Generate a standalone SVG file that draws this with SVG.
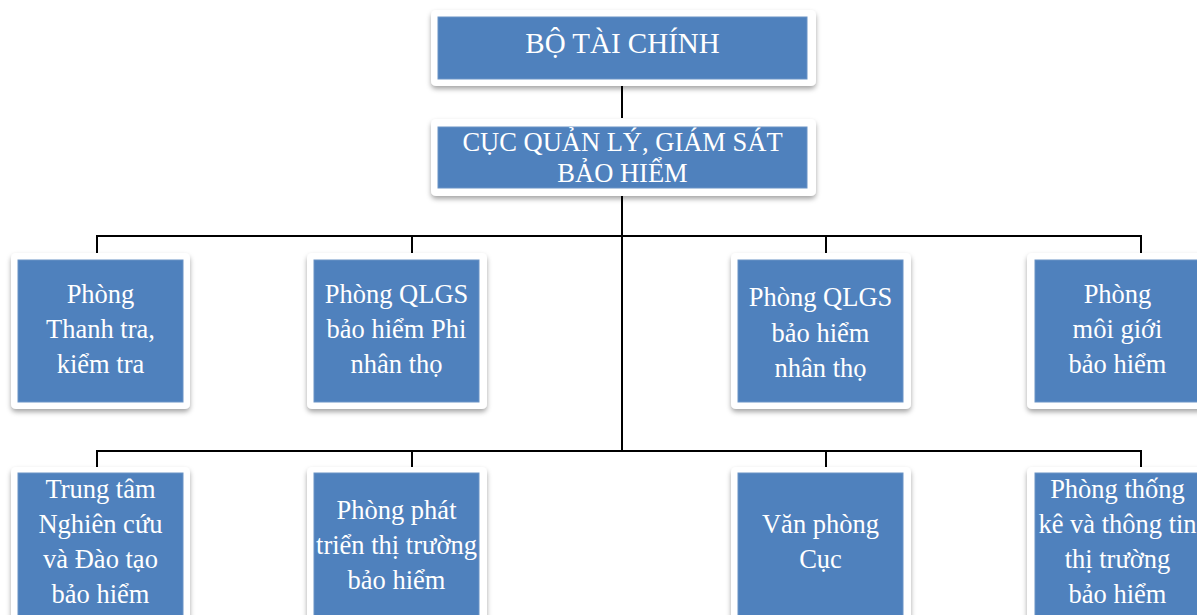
<svg xmlns="http://www.w3.org/2000/svg" width="1197" height="615" viewBox="0 0 1197 615">
<defs>
<filter id="sh" x="-10%" y="-10%" width="120%" height="130%">
<feDropShadow dx="0" dy="3" stdDeviation="2.5" flood-color="#000" flood-opacity="0.35"/>
</filter>
</defs>
<style>
.frame{fill:#fff;filter:url(#sh)}
.box{fill:#4F81BD;stroke:#6a93c6;stroke-width:1}
.t{font-family:"Liberation Serif","Times New Roman",serif;font-size:26.5px;fill:#fff;text-anchor:middle}
.big{font-size:29px}
.ln{stroke:#000;stroke-width:2;fill:none}
</style>
<rect width="1197" height="615" fill="#fff"/>
<g id="connectors">
<path class="ln" d="M622 86V118"/>
<path class="ln" d="M622 196V451"/>
<path class="ln" d="M97 253V236H1141V253"/>
<path class="ln" d="M412 236V253M826 236V253"/>
<path class="ln" d="M97 467V451H1141V467"/>
<path class="ln" d="M412 451V467M826 451V467"/>
</g>
<g id="n-botaichinh">
<rect class="frame" x="431" y="10" width="385" height="76" rx="5"/>
<rect class="box" x="438" y="17" width="369" height="62"/>
<text class="t big" x="622.5" y="53">BỘ TÀI CHÍNH</text>
</g>
<g id="n-cuc">
<rect class="frame" x="431" y="119" width="385" height="77" rx="5"/>
<rect class="box" x="438" y="127" width="369" height="61"/>
<text class="t" x="622.5" y="151">CỤC QUẢN LÝ, GIÁM SÁT</text>
<text class="t" x="622.5" y="181.5">BẢO HIỂM</text>
</g>
<g id="n-thanhtra">
<rect class="frame" x="11" y="253" width="179" height="156" rx="5"/>
<rect class="box" x="18" y="260" width="165" height="142"/>
<text class="t" x="100.5" y="303">Phòng</text>
<text class="t" x="100.5" y="338">Thanh tra,</text>
<text class="t" x="100.5" y="373">kiểm tra</text>
</g>
<g id="n-phinhantho">
<rect class="frame" x="307" y="253" width="180" height="156" rx="5"/>
<rect class="box" x="314" y="260" width="165" height="142"/>
<text class="t" x="396.5" y="303">Phòng QLGS</text>
<text class="t" x="396.5" y="338">bảo hiểm Phi</text>
<text class="t" x="396.5" y="373">nhân thọ</text>
</g>
<g id="n-nhantho">
<rect class="frame" x="731" y="253" width="180" height="156" rx="5"/>
<rect class="box" x="738" y="260" width="165" height="142"/>
<text class="t" x="820.5" y="306">Phòng QLGS</text>
<text class="t" x="820.5" y="342">bảo hiểm</text>
<text class="t" x="820.5" y="377">nhân thọ</text>
</g>
<g id="n-moigioi">
<rect class="frame" x="1027" y="253" width="180" height="156" rx="5"/>
<rect class="box" x="1035" y="260" width="165" height="142"/>
<text class="t" x="1117.5" y="303">Phòng</text>
<text class="t" x="1117.5" y="338">môi giới</text>
<text class="t" x="1117.5" y="373">bảo hiểm</text>
</g>
<g id="n-trungtam">
<rect class="frame" x="11" y="467" width="179" height="160" rx="5"/>
<rect class="box" x="18" y="473" width="165" height="150"/>
<text class="t" x="100.5" y="498">Trung tâm</text>
<text class="t" x="100.5" y="533">Nghiên cứu</text>
<text class="t" x="100.5" y="568">và Đào tạo</text>
<text class="t" x="100.5" y="603">bảo hiểm</text>
</g>
<g id="n-phattrien">
<rect class="frame" x="307" y="467" width="180" height="160" rx="5"/>
<rect class="box" x="314" y="473" width="165" height="150"/>
<text class="t" x="396.5" y="519">Phòng phát</text>
<text class="t" x="396.5" y="554">triển thị trường</text>
<text class="t" x="396.5" y="589">bảo hiểm</text>
</g>
<g id="n-vanphong">
<rect class="frame" x="731" y="467" width="180" height="160" rx="5"/>
<rect class="box" x="738" y="473" width="165" height="150"/>
<text class="t" x="820.5" y="533">Văn phòng</text>
<text class="t" x="820.5" y="568">Cục</text>
</g>
<g id="n-thongke">
<rect class="frame" x="1027" y="467" width="180" height="160" rx="5"/>
<rect class="box" x="1035" y="473" width="165" height="150"/>
<text class="t" x="1117.5" y="498">Phòng thống</text>
<text class="t" x="1117.5" y="533">kê và thông tin</text>
<text class="t" x="1117.5" y="568">thị trường</text>
<text class="t" x="1117.5" y="603">bảo hiểm</text>
</g>
</svg>
